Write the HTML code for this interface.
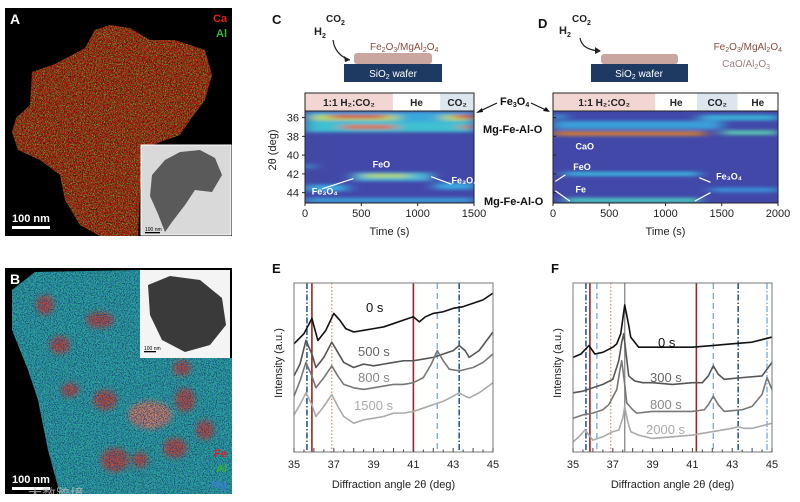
<!DOCTYPE html>
<html><head><meta charset="utf-8">
<style>
html,body{margin:0;padding:0;background:#fff;}
svg{display:block;font-family:"Liberation Sans","Noto Sans CJK SC",sans-serif;}
.b{font-weight:bold}
</style></head>
<body>
<svg id="fig" width="800" height="502" viewBox="0 0 800 502" xmlns="http://www.w3.org/2000/svg">
<defs>
<filter id="speck" x="0" y="0" width="100%" height="100%">
 <feTurbulence type="fractalNoise" baseFrequency="0.9" numOctaves="1" seed="3" result="n"/>
 <feColorMatrix in="n" type="matrix" values="0 0 0 0 0  0 0 0 0 0  0 0 0 0 0  6 0 0 0 -3" result="m"/>
 <feComposite in="SourceGraphic" in2="m" operator="in"/>
</filter>
<filter id="speck2" x="0" y="0" width="100%" height="100%">
 <feTurbulence type="fractalNoise" baseFrequency="0.85" numOctaves="1" seed="8" result="n"/>
 <feColorMatrix in="n" type="matrix" values="0 0 0 0 0  0 0 0 0 0  0 0 0 0 0  0 6 0 0 -3" result="m"/>
 <feComposite in="SourceGraphic" in2="m" operator="in"/>
</filter>
<filter id="blur2"><feGaussianBlur stdDeviation="3"/></filter>
<filter id="hblur" x="-20%" y="-50%" width="140%" height="200%"><feGaussianBlur stdDeviation="7 1.6"/></filter>
<clipPath id="clipC"><rect x="305" y="111" width="169" height="92"/></clipPath>
<clipPath id="clipD"><rect x="553" y="111" width="225" height="92"/></clipPath>
<clipPath id="clipA"><rect x="5" y="8" width="227" height="228"/></clipPath>
<clipPath id="clipB"><rect x="5" y="268" width="227" height="226"/></clipPath>
</defs>

<!-- Panel A -->
<g clip-path="url(#clipA)">
 <rect x="5" y="8" width="227" height="228" fill="#000"/>
 <path d="M12,132 L16,118 L30,105 L32,72 L55,64 L85,48 L95,30 L110,25 L130,28 L150,40 L175,40 L205,50 L212,75 L205,100 L190,120 L180,135 L160,142 L142,150 L138,236 L100,236 L80,225 L65,200 L60,175 L40,160 L18,150 Z" fill="#b41a14"/>
 <path d="M12,132 L16,118 L30,105 L32,72 L55,64 L85,48 L95,30 L110,25 L130,28 L150,40 L175,40 L205,50 L212,75 L205,100 L190,120 L180,135 L160,142 L142,150 L138,236 L100,236 L80,225 L65,200 L60,175 L40,160 L18,150 Z" fill="#3fae2a" filter="url(#speck)"/>
 <path d="M12,132 L16,118 L30,105 L32,72 L55,64 L85,48 L95,30 L110,25 L130,28 L150,40 L175,40 L205,50 L212,75 L205,100 L190,120 L180,135 L160,142 L142,150 L138,236 L100,236 L80,225 L65,200 L60,175 L40,160 L18,150 Z" fill="#000" opacity="0.55" filter="url(#speck2)"/>
 <rect x="141" y="145" width="90" height="90" fill="#d9d9d9" stroke="#fff" stroke-width="1"/>
 <path d="M152,175 L165,160 L180,152 L200,150 L215,158 L222,175 L212,192 L195,190 L185,205 L172,222 L165,232 L158,214 L150,196 Z" fill="#5a5a5a"/>
 <text x="145" y="231" font-size="5" fill="#000">100 nm</text>
 <rect x="145" y="232" width="15" height="1.3" fill="#000"/>
 <text x="10" y="24" class="b" font-size="14" fill="#fff">A</text>
 <text x="227" y="22" text-anchor="end" font-size="11" class="b" fill="#e02020">Ca</text>
 <text x="227" y="37" text-anchor="end" font-size="11" class="b" fill="#3cb030">Al</text>
 <text x="12" y="222" font-size="11" class="b" fill="#fff">100 nm</text>
 <rect x="12" y="226" width="38" height="3" fill="#fff"/>
</g>

<!-- Panel B -->
<g clip-path="url(#clipB)">
 <rect x="5" y="268" width="227" height="226" fill="#000"/>
 <path d="M12,290 L35,272 L140,270 L140,358 L232,358 L232,494 L60,494 L48,450 L38,400 L28,370 L12,330 Z" fill="#2aa39c"/>
 <g filter="url(#blur2)" fill="#c8402e" opacity="0.9">
  <ellipse cx="45" cy="305" rx="9" ry="10"/><ellipse cx="100" cy="320" rx="14" ry="8"/>
  <ellipse cx="60" cy="345" rx="10" ry="9"/><ellipse cx="70" cy="390" rx="9" ry="7"/>
  <ellipse cx="105" cy="400" rx="12" ry="10"/><ellipse cx="150" cy="415" rx="22" ry="14" fill="#e07a5a"/>
  <ellipse cx="185" cy="400" rx="10" ry="12"/><ellipse cx="182" cy="368" rx="9" ry="8"/>
  <ellipse cx="115" cy="460" rx="14" ry="12"/><ellipse cx="175" cy="448" rx="12" ry="10"/>
  <ellipse cx="205" cy="430" rx="9" ry="10"/><ellipse cx="140" cy="460" rx="8" ry="8"/>
 </g>
 <path d="M12,290 L35,272 L140,270 L140,358 L232,358 L232,494 L60,494 L48,450 L38,400 L28,370 L12,330 Z" fill="#2a5ab0" filter="url(#speck)"/>
 <path d="M12,290 L35,272 L140,270 L140,358 L232,358 L232,494 L60,494 L48,450 L38,400 L28,370 L12,330 Z" fill="#0b2a26" opacity="0.5" filter="url(#speck2)"/>
 <rect x="140" y="270" width="90" height="88" fill="#f4f4f4"/>
 <path d="M148,285 L170,276 L200,280 L222,298 L226,325 L210,345 L185,352 L162,340 L150,315 Z" fill="#3a3a3a"/>
 <text x="144" y="350" font-size="5" fill="#000">100 nm</text>
 <rect x="144" y="351" width="12" height="1.3" fill="#000"/>
 <text x="10" y="284" class="b" font-size="14" fill="#fff">B</text>
 <text x="227" y="457" text-anchor="end" font-size="11" class="b" fill="#e02020">Fe</text>
 <text x="227" y="472" text-anchor="end" font-size="11" class="b" fill="#3cb030">Al</text>
 <text x="227" y="488" text-anchor="end" font-size="11" class="b" fill="#3a7fd0">Mg</text>
 <text x="12" y="483" font-size="11" class="b" fill="#fff">100 nm</text>
 <rect x="12" y="487" width="38" height="3" fill="#fff"/>
 <text x="28" y="499" font-size="14" fill="#bbb" opacity="0.8">大数跨境</text>
</g>

<!-- Schematics -->
<g>
 <text x="272" y="24" class="b" font-size="13" fill="#111">C</text>
 <text x="314" y="35" font-size="11" class="b" fill="#222">H<tspan font-size="7" dy="3">2</tspan></text>
 <text x="326" y="22" font-size="10" class="b" fill="#222">CO<tspan font-size="7" dy="3">2</tspan></text>
 <path d="M333,40 Q335,55 350,60" fill="none" stroke="#222" stroke-width="1.2"/>
 <path d="M350,60 l-6,-4 l1,6 z" fill="#222"/>
 <rect x="354" y="53" width="78" height="11" rx="3" fill="#c9a6a0"/>
 <rect x="344" y="64" width="98" height="18" fill="#1e3a63"/>
 <text x="393" y="77" text-anchor="middle" font-size="10" fill="#fff">SiO<tspan font-size="7" dy="2">2</tspan><tspan dy="-2"> wafer</tspan></text>
 <text x="370" y="50" font-size="10" fill="#8a4a40">Fe<tspan font-size="7" dy="2">2</tspan><tspan dy="-2">O</tspan><tspan font-size="7" dy="2">3</tspan><tspan dy="-2">/MgAl</tspan><tspan font-size="7" dy="2">2</tspan><tspan dy="-2">O</tspan><tspan font-size="7" dy="2">4</tspan></text>
</g>
<g>
 <text x="538" y="28" class="b" font-size="13" fill="#111">D</text>
 <text x="559" y="34" font-size="11" class="b" fill="#222">H<tspan font-size="7" dy="3">2</tspan></text>
 <text x="572" y="22" font-size="10" class="b" fill="#222">CO<tspan font-size="7" dy="3">2</tspan></text>
 <path d="M580,38 Q582,50 600,51" fill="none" stroke="#222" stroke-width="1.2"/>
 <path d="M601,51 l-6,-4 l0,7 z" fill="#222"/>
 <rect x="601" y="54" width="77" height="10" rx="3" fill="#c9a6a0"/>
 <rect x="591" y="64" width="97" height="18" fill="#1e3a63"/>
 <text x="639" y="77" text-anchor="middle" font-size="10" fill="#fff">SiO<tspan font-size="7" dy="2">2</tspan><tspan dy="-2"> wafer</tspan></text>
 <text x="782" y="50" text-anchor="end" font-size="10" fill="#8a4a40">Fe<tspan font-size="7" dy="2">2</tspan><tspan dy="-2">O</tspan><tspan font-size="7" dy="2">3</tspan><tspan dy="-2">/MgAl</tspan><tspan font-size="7" dy="2">2</tspan><tspan dy="-2">O</tspan><tspan font-size="7" dy="2">4</tspan></text>
 <text x="770" y="67" text-anchor="end" font-size="10" fill="#9a8080">CaO/Al<tspan font-size="7" dy="2">2</tspan><tspan dy="-2">O</tspan><tspan font-size="7" dy="2">3</tspan></text>
</g>

<g id="heatC"></g>
<g id="heatD"></g>

<g>
 <text x="500" y="105" class="b" font-size="11" fill="#111">Fe<tspan font-size="7" dy="2">3</tspan><tspan dy="-2">O</tspan><tspan font-size="7" dy="2">4</tspan></text>
 <path d="M497,103 L478,112" stroke="#111" stroke-width="1.2"/><path d="M476,113 l6,-5 l1,4 z" fill="#111"/>
 <path d="M531,103 L548,111" stroke="#111" stroke-width="1.2"/><path d="M550,112 l-7,-1 l3,-4 z" fill="#111"/>
 <text x="483" y="133" class="b" font-size="11" fill="#111">Mg-Fe-Al-O</text>
 <text x="484" y="205" class="b" font-size="11" fill="#111">Mg-Fe-Al-O</text>
</g>

<g id="xrdE"></g>
<g id="xrdF"></g>
</svg>

<script>
const NS='http://www.w3.org/2000/svg';
function mk(tag,attrs,parent,txt){const e=document.createElementNS(NS,tag);for(const k in attrs)e.setAttribute(k,attrs[k]);if(txt!==undefined)e.textContent=txt;parent.appendChild(e);return e;}

/* ---------- Heatmap data ---------- */
const cTimeMax=1500, dTimeMax=2000;
const thetaMin=35.3, thetaMax=45.1;
const cSegments=[['1:1 H₂:CO₂',0,780,'#f2d6d4'],['He',780,1200,'#ffffff'],['CO₂',1200,1500,'#dde5ef']];
const dSegments=[['1:1 H₂:CO₂',0,910,'#f2d6d4'],['He',910,1280,'#ffffff'],['CO₂',1280,1640,'#dde5ef'],['He',1640,2000,'#ffffff']];
// features: [theta, tStart, tEnd, color, halfWidth(deg)]
const cFeatures=[[36,0,1500,'#3aa8dc',0.6],[37,0,1500,'#40c0d0',0.55],[36,60,820,'#b8e060',0.3],[36,1220,1500,'#b8e060',0.3],
 [35.9,220,720,'#e03a20',0.18],[35.9,1320,1500,'#e03a20',0.18],[37,330,800,'#e85a20',0.2],[37,1370,1500,'#e07020',0.15],
 [42.3,430,1120,'#4ab8d8',0.45],[42.2,520,920,'#b8d860',0.2],[43.5,0,380,'#3aa8e0',0.35],[43.3,1150,1500,'#3aa8e0',0.35],[44.8,0,1500,'#3a9ed8',0.25],[41.2,0,60,'#40c0e0',0.25]];
const dFeatures=[[36.8,0,1500,'#3a9ed8',0.45],[36,1300,2000,'#3ab0d8',0.3],[37.6,1500,2000,'#58c8b0',0.25],[37.7,0,1350,'#e0b040',0.22],[37.7,0,1350,'#d02810',0.1],
 [42,100,1300,'#3ab8e0',0.22],[44.8,100,1300,'#48c8c0',0.25],[43.7,1400,2000,'#3a90d8',0.25],[35.9,0,100,'#3ab0e0',0.25]];

function heatmap(g,x0,w,tMax,segs,feats,clip,ticks,tickLabels){
 const y0=111,h=92;
 const X=t=>x0+t/tMax*w, Y=th=>y0+(th-thetaMin)/(thetaMax-thetaMin)*h;
 const hdr=mk('g',{},g);
 
 
 segs.forEach(s=>{mk('rect',{x:X(s[1]),y:93,width:X(s[2])-X(s[1]),height:18,fill:s[3]},hdr);
  const t=mk('text',{x:(X(s[1])+X(s[2]))/2,y:106,'text-anchor':'middle','font-size':10,'font-weight':'bold',fill:'#222'},hdr,s[0]);
  
  });
 const body=mk('g',{'clip-path':'url(#'+clip+')'},g);
 mk('rect',{x:x0,y:y0,width:w,height:h,fill:'#4248a8'},body);
 const fg=mk('g',{filter:'url(#hblur)'},body);
 feats.forEach(f=>{const r=mk('rect',{x:X(f[1]),y:Y(f[0]-f[4]),width:X(f[2])-X(f[1]),height:Y(f[0]+f[4])-Y(f[0]-f[4]),fill:f[3]},fg);
  
  });
 mk('rect',{x:x0,y:93,width:w,height:110,fill:'none',stroke:'#222','stroke-width':1},g);
 mk('line',{x1:x0,y1:y0,x2:x0+w,y2:y0,stroke:'#222','stroke-width':1},g);
 ticks.forEach((t,i)=>{mk('line',{x1:X(t),y1:203,x2:X(t),y2:206,stroke:'#222'},g);
  const l=mk('text',{x:X(t),y:217,'text-anchor':'middle','font-size':11,fill:'#222'},g,tickLabels[i]);
  
  });
 const xt=mk('text',{x:x0+w/2,y:235,'text-anchor':'middle','font-size':11,fill:'#222'},g,'Time (s)');
 
 
 return {X,Y};
}
const cTicks=[0,500,1000,1500], cTickLabels=['0','500','1000','1500'];
const dTicks=[0,500,1000,1500,2000], dTickLabels=['0','500','1000','1500','2000'];
const yTicks=[36,38,40,42,44], yTickLabels=['36','38','40','42','44'];
const gC=document.getElementById('heatC');
const ac=heatmap(gC,305,169,cTimeMax,cSegments,cFeatures,'clipC',cTicks,cTickLabels);
yTicks.forEach((v,i)=>{mk('line',{x1:305,y1:ac.Y(v),x2:302,y2:ac.Y(v),stroke:'#222'},gC);
 const l=mk('text',{x:299,y:ac.Y(v)+4,'text-anchor':'end','font-size':11,fill:'#222'},gC,yTickLabels[i]);
 
 });
const yt=mk('text',{x:0,y:0,'font-size':11,fill:'#222','text-anchor':'middle',transform:'translate(276,150) rotate(-90)'},gC,'2θ (deg)');


[['FeO',600,41.3],['Fe₃O₄',60,44.2],['Fe₃O₄',1300,43.0]].forEach(a=>mk('text',{x:ac.X(a[1]),y:ac.Y(a[2]),'font-size':9,fill:'#fff','font-weight':'bold'},gC,a[0]));
mk('path',{d:`M${ac.X(150)},${ac.Y(43.6)} L${ac.X(430)},${ac.Y(42.5)}`,stroke:'#fff','stroke-width':1.2},gC);
mk('path',{d:`M${ac.X(1120)},${ac.Y(42.3)} L${ac.X(1300)},${ac.Y(43.1)}`,stroke:'#fff','stroke-width':1.2},gC);

const gD=document.getElementById('heatD');
const ad=heatmap(gD,553,225,dTimeMax,dSegments,dFeatures,'clipD',dTicks,dTickLabels);
yTicks.forEach(v=>mk('line',{x1:553,y1:ad.Y(v),x2:556,y2:ad.Y(v),stroke:'#222'},gD));
[['CaO',200,39.4],['FeO',180,41.6],['Fe',200,44.0],['Fe₃O₄',1450,42.6]].forEach(a=>mk('text',{x:ad.X(a[1]),y:ad.Y(a[2]),'font-size':9,fill:'#fff','font-weight':'bold'},gD,a[0]));
mk('path',{d:`M${ad.X(20)},${ad.Y(42.8)} L${ad.X(110)},${ad.Y(42.1)} M${ad.X(20)},${ad.Y(43.8)} L${ad.X(150)},${ad.Y(44.9)} M${ad.X(1260)},${ad.Y(44.9)} L${ad.X(1400)},${ad.Y(44.0)} M${ad.X(1300)},${ad.Y(42.4)} L${ad.X(1400)},${ad.Y(42.9)}`,stroke:'#fff','stroke-width':1.2},gD);

/* ---------- XRD data ---------- */
const e0Angle=[35,35.5,35.9,36.2,36.6,37,37.3,37.6,38,38.5,39,39.5,40,40.5,41,41.3,41.6,42,42.5,43,43.5,44,44.5,45];
const e0Int=  [64,70,79,66,72,82,78,73,71,72,73,74,76,78,80,77,80,82,83,85,86,88,90,94];
const e500Angle=[35,35.3,35.6,35.9,36.1,36.5,36.9,37.2,37.5,38,38.5,39,39.5,40,40.5,41,41.5,42,42.5,43,43.3,43.6,43.8,44.3,45];
const e500Int=  [45,52,66,58,50,56,65,59,53,50,52,51,52,53,54,54,55,56,58,60,63,60,56,60,71];
const e800Angle=[35,35.3,35.6,35.9,36.1,36.5,36.9,37.2,37.5,38,38.5,39,39.5,40,40.5,41,41.5,41.9,42.2,42.5,42.8,43.3,44,44.5,45];
const e800Int=  [33,42,53,45,38,44,51,45,40,38,37,38,39,40,40,41,44,52,60,54,49,48,50,53,58];
const e1500Angle=[35,35.3,35.6,35.9,36.1,36.5,36.9,37.2,37.5,38,38.5,39,39.5,40,40.5,41,41.5,42,42.5,43,43.3,43.6,43.8,44.3,45];
const e1500Int=  [22,28,35,28,21,27,34,27,21,17,19,20,21,23,23,24,26,28,30,33,35,33,32,35,41];

const f0Angle=[35,35.4,35.8,36.1,36.5,37,37.2,37.4,37.6,37.8,37.9,38.3,39,40,41,42,43,44,45];
const f0Int=  [56,58,63,58,59,62,64,70,87,75,68,62,62,62,62,63,64,65,68];
const f300Angle=[35,35.5,36,36.5,37,37.3,37.45,37.55,37.7,37.8,38.1,38.5,39,40,41,41.5,41.8,42.05,42.3,42.6,43.5,44.5,45];
const f300Int=  [35,36,38,40,43,54,65,70,55,45,42,41,41,40,41,41,45,51,46,43,44,45,53];
const f800Angle=[35,35.5,36,36.5,36.8,37.2,37.35,37.45,37.6,37.7,38,38.2,39,40,41,41.6,41.8,42.05,42.3,42.6,43.5,44,44.5,44.75,45];
const f800Int=  [20,22,23,25,28,37,48,54,40,29,25,23,24,24,24,25,28,33,28,24,25,27,34,44,37];
const f2000Angle=[35,35.3,35.6,35.8,36,36.5,37,37.3,37.5,37.6,37.75,37.9,38.3,39,40,41,42,43,43.3,43.6,44,45];
const f2000Int=  [6,9,13,10,7,9,12,13,20,27,18,12,10,8,9,10,12,14,15,14,14,17];

const eRefLines=[[35.65,'#2b5d8c','6,2,1.5,2',1.6],[35.9,'#9b2424','',1.6],[36.9,'#d07050','1.5,2',1],[41.0,'#9b2424','',1.6],[42.2,'#7aa8d8','6,4',1.3],[43.3,'#2b5d8c','6,2,1.5,2',1.6],[45,'#d07050','1.5,2',1]];
const fRefLines=[[35.65,'#2b5d8c','6,2,1.5,2',1.6],[35.85,'#9b2424','',1.6],[36.2,'#7aa8d8','6,4',1.3],[36.9,'#d07050','1.5,2',1],[37.6,'#888','',1.3],[41.2,'#9b2424','',1.6],[42.05,'#7aa8d8','6,4',1.3],[43.3,'#2b5d8c','6,2,1.5,2',1.6],[44.75,'#7aa8d8','6,2,1.5,2',1.3],[45,'#d07050','1.5,2',1]];
const xTicks=[35,37,39,41,43,45], xTickLabels=['35','37','39','41','43','45'];

function xrd(gid,x0,letter,series,refs,labels){
 const g=document.getElementById(gid);
 const w=199,y0=283,h=169;
 const X=a=>x0+(a-35)/10*w, Y=v=>y0+h-v/100*h;
 const lt=mk('text',{x:x0-22,y:y0-10,'font-size':13,'font-weight':'bold',fill:'#111'},g,letter);
 
 
 refs.forEach(r=>{const l=mk('line',{x1:X(r[0]),y1:y0,x2:X(r[0]),y2:y0+h,stroke:r[1],'stroke-width':r[3],'stroke-dasharray':r[2]},g);
  
  });
 series.forEach(s=>{const p=mk('polyline',{points:s[0].map((a,i)=>X(a)+','+Y(s[1][i])).join(' '),fill:'none',stroke:s[2],'stroke-width':1.6,'stroke-linejoin':'round'},g);
  
  });
 labels.forEach(l=>{const t=mk('text',{x:l[1],y:l[2],'font-size':13,fill:l[3]},g,l[0]);
  
  });
 mk('rect',{x:x0,y:y0,width:w,height:h,fill:'none',stroke:'#777','stroke-width':1},g);
 for(let a=35;a<=45.01;a+=0.5)mk('line',{x1:X(a),y1:y0+h,x2:X(a),y2:y0+h-(Math.abs(a-Math.round(a))<0.01?4:2.5),stroke:'#444'},g);
 xTicks.forEach((t,i)=>{const l=mk('text',{x:X(t),y:y0+h+16,'text-anchor':'middle','font-size':11,fill:'#222'},g,xTickLabels[i]);
  
  });
 const xt=mk('text',{x:x0+w/2,y:y0+h+36,'text-anchor':'middle','font-size':11,fill:'#222'},g,'Diffraction angle 2θ (deg)');
 
 
 const yt=mk('text',{x:0,y:0,'font-size':11,fill:'#222','text-anchor':'middle',transform:`translate(${x0-12},${y0+80}) rotate(-90)`},g,'Intensity (a.u.)');
 
 
}
xrd('xrdE',294,'E',[[e0Angle,e0Int,'#111'],[e500Angle,e500Int,'#555'],[e800Angle,e800Int,'#777'],[e1500Angle,e1500Int,'#aaa']],eRefLines,
 [['0 s',366,312,'#111'],['500 s',358,356,'#666'],['800 s',358,382,'#888'],['1500 s',354,410,'#aaa']]);
xrd('xrdF',573,'F',[[f0Angle,f0Int,'#111'],[f300Angle,f300Int,'#555'],[f800Angle,f800Int,'#777'],[f2000Angle,f2000Int,'#aaa']],fRefLines,
 [['0 s',658,347,'#111'],['300 s',650,382,'#666'],['800 s',650,409,'#888'],['2000 s',646,434,'#aaa']]);
</script>
</body></html>
